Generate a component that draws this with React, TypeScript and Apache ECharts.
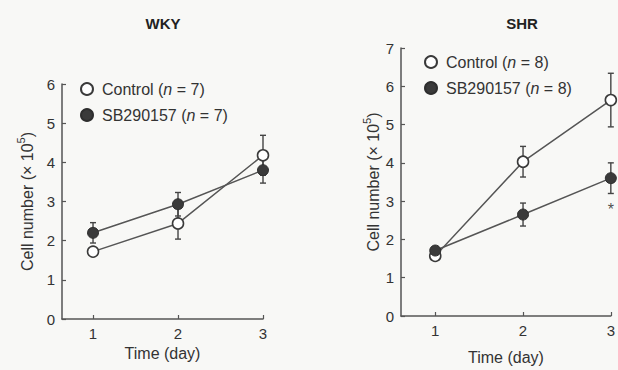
import React, { useEffect, useRef } from "react";
import * as echarts from "echarts";

const days = [1, 2, 3];
const tickDays = [1, 2, 3];

const wkyControl = [1.72, 2.44, 4.18];
const wkyControlErr = [0.12, 0.4, 0.51];
const wkySB = [2.2, 2.93, 3.8];
const wkySBErr = [0.26, 0.3, 0.33];

const shrControl = [1.57, 4.03, 5.64];
const shrControlErr = [0.08, 0.4, 0.7];
const shrSB = [1.71, 2.65, 3.6];
const shrSBErr = [0.08, 0.3, 0.4];

const shrSigMarks = [[3, 2.78]];

const panelTitles = ["WKY", "SHR"];
const legendNames = [
  ["Control (n = 7)", "SB290157 (n = 7)"],
  ["Control (n = 8)", "SB290157 (n = 8)"],
];

const FONT = "Liberation Sans, Arial, Helvetica, sans-serif";
const INK = "#333";
const LINE = "#555";
const BG = "#f8f8f6";

function errRender(params: any, api: any) {
  const x = api.value(0);
  const y = api.value(1);
  const e = api.value(2);
  const top = api.coord([x, y + e]);
  const bot = api.coord([x, y - e]);
  const w = 3;
  const style = { stroke: "#444", lineWidth: 1.4 };
  return {
    type: "group",
    children: [
      { type: "line", shape: { x1: top[0], y1: top[1], x2: bot[0], y2: bot[1] }, style },
      { type: "line", shape: { x1: top[0] - w, y1: top[1], x2: top[0] + w, y2: top[1] }, style },
      { type: "line", shape: { x1: bot[0] - w, y1: bot[1], x2: bot[0] + w, y2: bot[1] }, style },
    ],
  };
}

function pts(vals: number[]) {
  return days.map((d, i) => [d, vals[i]]);
}
function errPts(vals: number[], errs: number[]) {
  return days.map((d, i) => [d, vals[i], errs[i]]);
}

function legendFormatter(name: string) {
  const m = name.match(/^(.*)\(n = (\d+)\)$/);
  if (!m) return name;
  return `{a|${m[1]}(}{i|n}{a| = ${m[2]})}`;
}

export default function App() {
  const ref = useRef<HTMLDivElement>(null);

  useEffect(() => {
    document.body.style.margin = "0";
    const chart = echarts.init(ref.current!, null, { renderer: "svg" });

    const axisLine = { show: true, lineStyle: { color: LINE, width: 1.5 } };
    const axisTick = { show: true, inside: true, length: 4, lineStyle: { color: LINE, width: 1.2 } };
    const labelStyle = { color: INK, fontSize: 15, fontFamily: FONT };

    const xAxisBase = (min: number) => ({
      type: "value",
      min,
      max: 3,
      axisLine,
      axisTick: { ...axisTick, customValues: tickDays },
      axisLabel: { ...labelStyle, margin: 7, customValues: tickDays },
      splitLine: { show: false },
      name: "Time (day)",
      nameLocation: "middle",
      nameGap: 29,
      nameTextStyle: { color: INK, fontSize: 16, fontFamily: FONT },
    });

    const yName = "{a|Cell number (× 10}{s|5}{a|)}";
    const yAxisBase = (max: number, gap: number) => ({
      type: "value",
      min: 0,
      max,
      interval: 1,
      axisLine,
      axisTick,
      axisLabel: { ...labelStyle, margin: 7 },
      splitLine: { show: false },
      name: yName,
      nameLocation: "middle",
      nameRotate: 90,
      nameGap: gap,
      nameTextStyle: {
        color: INK,
        fontFamily: FONT,
        rich: {
          a: { fontSize: 16, fontFamily: FONT, color: INK, lineHeight: 20, verticalAlign: "bottom" },
          s: { fontSize: 11, fontFamily: FONT, color: INK, lineHeight: 20, verticalAlign: "top", padding: [0, 0, 8, 0] },
        },
      },
    });

    const legendRich = {
      a: { fontSize: 16, fontFamily: FONT, color: INK },
      i: { fontSize: 16, fontFamily: FONT, color: INK, fontStyle: "italic" },
    };

    const lineSeries = (name: string, data: number[][], idx: number, filled: boolean) => ({
      type: "line",
      name,
      data,
      xAxisIndex: idx,
      yAxisIndex: idx,
      symbol: "circle",
      symbolSize: 11,
      z: filled ? 4 : 3,
      lineStyle: { color: LINE, width: 1.5 },
      itemStyle: filled
        ? { color: "#3a3a3a", borderColor: "#2e2e2e", borderWidth: 1 }
        : { color: "#ffffff", borderColor: "#3a3a3a", borderWidth: 1.6 },
      emphasis: { disabled: true },
    });

    const errSeries = (data: number[][], idx: number) => ({
      type: "custom",
      xAxisIndex: idx,
      yAxisIndex: idx,
      renderItem: errRender,
      data,
      encode: { x: 0, y: 1 },
      z: 2,
      silent: true,
    });

    chart.setOption({
      animation: false,
      backgroundColor: BG,
      textStyle: { fontFamily: FONT },
      grid: [
        { left: 62, top: 84, width: 201, height: 235 },
        { left: 401, top: 48, width: 211, height: 275 },
      ],
      xAxis: [
        { ...xAxisBase(0.635), gridIndex: 0, nameGap: 22 },
        { ...xAxisBase(0.61), gridIndex: 1, nameGap: 33 },
      ],
      yAxis: [
        { ...yAxisBase(6, 27), gridIndex: 0 },
        { ...yAxisBase(7, 19), gridIndex: 1 },
      ],
      legend: [
        {
          data: legendNames[0],
          orient: "vertical",
          left: 75,
          top: 76,
          icon: "circle",
          itemWidth: 20,
          itemHeight: 12,
          itemGap: 10,
          formatter: legendFormatter,
          textStyle: { rich: legendRich },
          selectedMode: false,
        },
        {
          data: legendNames[1],
          orient: "vertical",
          left: 419,
          top: 49,
          icon: "circle",
          itemWidth: 20,
          itemHeight: 12,
          itemGap: 10,
          formatter: legendFormatter,
          textStyle: { rich: legendRich },
          selectedMode: false,
        },
      ],
      graphic: [
        {
          type: "text",
          x: 163,
          y: 23,
          style: { text: panelTitles[0], align: "center", verticalAlign: "middle", font: `bold 15px ${FONT}`, fill: "#222" },
        },
        {
          type: "text",
          x: 522,
          y: 23,
          style: { text: panelTitles[1], align: "center", verticalAlign: "middle", font: `bold 15px ${FONT}`, fill: "#222" },
        },
      ],
      series: [
        errSeries(errPts(wkyControl, wkyControlErr), 0),
        errSeries(errPts(wkySB, wkySBErr), 0),
        lineSeries(legendNames[0][0], pts(wkyControl), 0, false),
        lineSeries(legendNames[0][1], pts(wkySB), 0, true),
        errSeries(errPts(shrControl, shrControlErr), 1),
        errSeries(errPts(shrSB, shrSBErr), 1),
        lineSeries(legendNames[1][0], pts(shrControl), 1, false),
        lineSeries(legendNames[1][1], pts(shrSB), 1, true),
        {
          type: "scatter",
          xAxisIndex: 1,
          yAxisIndex: 1,
          data: shrSigMarks,
          symbolSize: 1,
          itemStyle: { color: "rgba(0,0,0,0)" },
          label: { show: true, position: "inside", formatter: "*", fontSize: 16, color: "#222", fontFamily: FONT },
          silent: true,
        },
      ],
    });

    return () => chart.dispose();
  }, []);

  return (
    <div
      ref={ref}
      style={{ position: "fixed", left: 0, top: 0, width: 618, height: 370, background: BG }}
    />
  );
}
